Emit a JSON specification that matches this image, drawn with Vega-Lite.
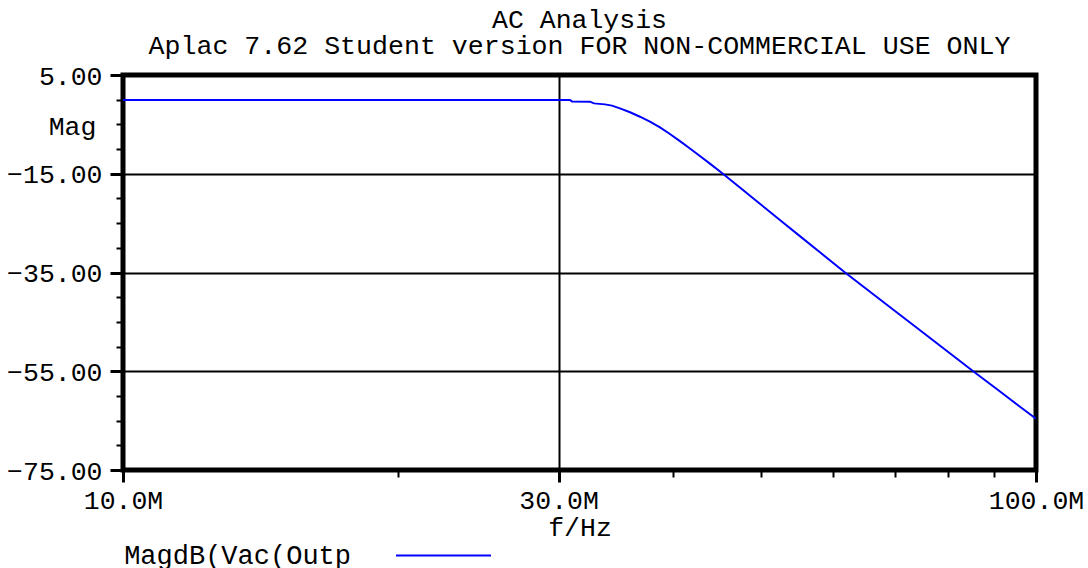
{
  "$schema": "https://vega.github.io/schema/vega-lite/v6.json",
  "width": 913,
  "height": 395,
  "autosize": {"type": "none"},
  "padding": {"left": 123, "top": 75, "right": 52, "bottom": 98},
  "background": "white",
  "config": {
    "view": {"stroke": "black", "strokeWidth": 5},
    "font": "Liberation Mono",
    "axis": {
      "labelFont": "Liberation Mono",
      "titleFont": "Liberation Mono",
      "labelColor": "black",
      "titleColor": "black",
      "tickColor": "black",
      "gridColor": "black",
      "domain": false,
      "labelFlush": false,
      "labelOverlap": false,
      "labelFontSize": 26.5,
      "titleFontSize": 26.5,
      "titleFontWeight": "normal"
    }
  },
  "title": {
    "text": "AC Analysis",
    "subtitle": "Aplac 7.62 Student version FOR NON-COMMERCIAL USE ONLY",
    "font": "Liberation Mono",
    "subtitleFont": "Liberation Mono",
    "fontSize": 26.5,
    "subtitleFontSize": 26.6,
    "fontWeight": "normal",
    "color": "black",
    "subtitleColor": "black",
    "anchor": "middle",
    "frame": "group",
    "offset": 3,
    "subtitlePadding": 0
  },
  "data": {
    "values": [
      {"f": 10000000, "dB": -0.05},
      {"f": 20000000, "dB": -0.05},
      {"f": 30100000, "dB": -0.05},
      {"f": 30870000, "dB": -0.05},
      {"f": 31030000, "dB": -0.35},
      {"f": 32470000, "dB": -0.4},
      {"f": 32800000, "dB": -0.75},
      {"f": 33720000, "dB": -0.95},
      {"f": 34320000, "dB": -1.2},
      {"f": 35020000, "dB": -1.75},
      {"f": 35920000, "dB": -2.55},
      {"f": 36830000, "dB": -3.45},
      {"f": 37770000, "dB": -4.45},
      {"f": 38740000, "dB": -5.6},
      {"f": 39720000, "dB": -6.95},
      {"f": 40740000, "dB": -8.4},
      {"f": 41780000, "dB": -9.9},
      {"f": 42840000, "dB": -11.4},
      {"f": 43940000, "dB": -12.95},
      {"f": 45400000, "dB": -15.0},
      {"f": 47390000, "dB": -17.79},
      {"f": 49840000, "dB": -21.07},
      {"f": 52420000, "dB": -24.35},
      {"f": 55130000, "dB": -27.63},
      {"f": 57990000, "dB": -30.91},
      {"f": 61780000, "dB": -35.0},
      {"f": 65790000, "dB": -38.9},
      {"f": 70070000, "dB": -42.8},
      {"f": 74640000, "dB": -46.7},
      {"f": 79490000, "dB": -50.6},
      {"f": 85350000, "dB": -55.0},
      {"f": 91330000, "dB": -59.1},
      {"f": 96050000, "dB": -62.2},
      {"f": 100000000, "dB": -64.6}
    ]
  },
  "resolve": {"axis": {"x": "independent", "y": "independent"}},
  "layer": [
    {
      "mark": {"type": "line", "strokeOpacity": 0},
      "encoding": {
        "x": {
          "field": "f", "type": "quantitative",
          "scale": {"type": "log", "domain": [10000000, 100000000], "nice": false},
          "axis": {
            "orient": "bottom",
            "values": [20000000, 40000000, 50000000, 60000000, 70000000, 80000000, 90000000],
            "labels": false, "grid": false, "title": null,
            "tickSize": 7, "tickWidth": 2
          }
        },
        "y": {
          "field": "dB", "type": "quantitative",
          "scale": {"domain": [-75, 5], "nice": false, "zero": false},
          "axis": {
            "orient": "left",
            "values": [0, -5, -10, -20, -25, -30, -40, -45, -50, -60, -65, -70],
            "labels": false, "grid": false, "title": null,
            "tickSize": 7, "tickWidth": 2
          }
        }
      }
    },
    {
      "mark": {"type": "line", "color": "#0000ff", "strokeWidth": 2, "clip": true},
      "encoding": {
        "x": {
          "field": "f", "type": "quantitative",
          "scale": {"type": "log", "domain": [10000000, 100000000], "nice": false},
          "axis": {
            "orient": "bottom",
            "values": [10000000, 30000000, 100000000],
            "labelExpr": "format(datum.value / 1000000, '.1f') + 'M'",
            "grid": true, "gridWidth": 2,
            "tickSize": 12, "tickWidth": 3,
            "labelBaseline": "alphabetic", "labelPadding": 26,
            "title": "f/Hz", "titleBaseline": "alphabetic", "titleY": 65
          }
        },
        "y": {
          "field": "dB", "type": "quantitative",
          "scale": {"domain": [-75, 5], "nice": false, "zero": false},
          "axis": {
            "orient": "left",
            "values": [5, -15, -35, -55, -75],
            "format": ".2f",
            "grid": true, "gridWidth": 2,
            "tickSize": 13, "tickWidth": 3,
            "labelPadding": 8, "labelBaseline": "middle", "labelOffset": 1,
            "title": "Mag", "titleAngle": 0, "titleAlign": "center",
            "titleBaseline": "alphabetic", "titleX": -51, "titleY": 59
          }
        },
        "color": {
          "datum": "MagdB(Vac(Outp",
          "type": "nominal",
          "scale": {"range": ["#0000ff"]},
          "legend": {
            "title": null,
            "orient": "none",
            "legendX": 272,
            "legendY": 432,
            "padding": 0,
            "symbolType": "stroke",
            "symbolSize": 9025,
            "symbolStrokeWidth": 2,
            "labelFont": "Liberation Mono",
            "labelFontSize": 27,
            "labelColor": "black",
            "labelAlign": "right",
            "labelBaseline": "middle",
            "labelOffset": -141,
            "labelLimit": 0
          }
        }
      }
    }
  ]
}
